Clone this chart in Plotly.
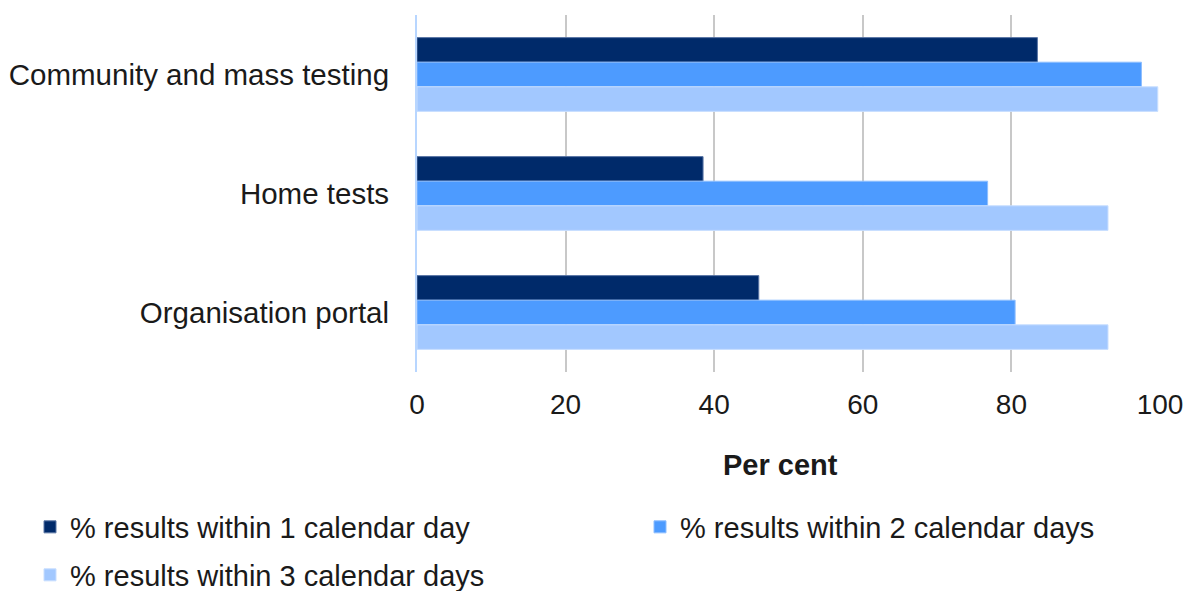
import plotly.graph_objects as go

categories = ["Community and mass testing", "Home tests", "Organisation portal"]
series_names = [
    "% results within 1 calendar day",
    "% results within 2 calendar days",
    "% results within 3 calendar days",
]
within_1_day = [83.5, 38.5, 46.0]
within_2_days = [97.5, 76.8, 80.5]
within_3_days = [99.7, 93.0, 93.0]
x_ticks = [0, 20, 40, 60, 80, 100]
x_title = "<b>Per cent</b>"

colors = ["#002A6A", "#4D9BFF", "#A2C8FF"]
edges = ["#5A76A6", "#8DBEFF", "#C8DEFF"]
legend_ids = ["legend", "legend2", "legend3"]

fig = go.Figure()
for name, vals, c, e, lg in zip(series_names, [within_1_day, within_2_days, within_3_days],
                                colors, edges, legend_ids):
    fig.add_trace(go.Bar(
        y=categories, x=vals, name=name, orientation="h", legend=lg,
        marker=dict(color=c, line=dict(color=e, width=1)),
    ))

W, H = 1189, 591
L, R, T, B = 417, 29, 15, 219
PW, PH = W - L - R, H - T - B
leg_common = dict(xref="container", yref="container", xanchor="left", yanchor="middle",
                  font=dict(size=29), itemwidth=30, bgcolor="rgba(0,0,0,0)")

fig.update_layout(
    width=W, height=H,
    paper_bgcolor="white", plot_bgcolor="white",
    margin=dict(l=L, r=R, t=T, b=B, autoexpand=False),
    barmode="group", bargap=0.38, bargroupgap=0,
    font=dict(family="Liberation Sans, Arial, sans-serif", size=29.5, color="#1a1a1a"),
    showlegend=True,
    legend=dict(x=30 / W, y=1 - 527 / H, **leg_common),
    legend2=dict(x=640 / W, y=1 - 527 / H, **leg_common),
    legend3=dict(x=30 / W, y=1 - 575 / H, **leg_common),
    annotations=[dict(
        text=x_title, xref="paper", yref="paper", x=(780 - L) / PW,
        y=((H - B) - 465) / PH, xanchor="center", yanchor="middle", showarrow=False,
        font=dict(size=29, color="#1a1a1a"),
    )],
)
fig.update_xaxes(
    range=[0, 100], tickvals=x_ticks, showgrid=True, gridcolor="#C8C8C8", gridwidth=2,
    zeroline=False, showline=False, ticklabelstandoff=13, tickfont=dict(size=28),
)
fig.update_yaxes(
    autorange="reversed", showline=True, linecolor="#B8D6FF", linewidth=2,
    showgrid=False, ticklabelstandoff=20,
)
fig.write_html("out.html", config={"displayModeBar": False},
               post_script="document.body.style.margin='0';")
